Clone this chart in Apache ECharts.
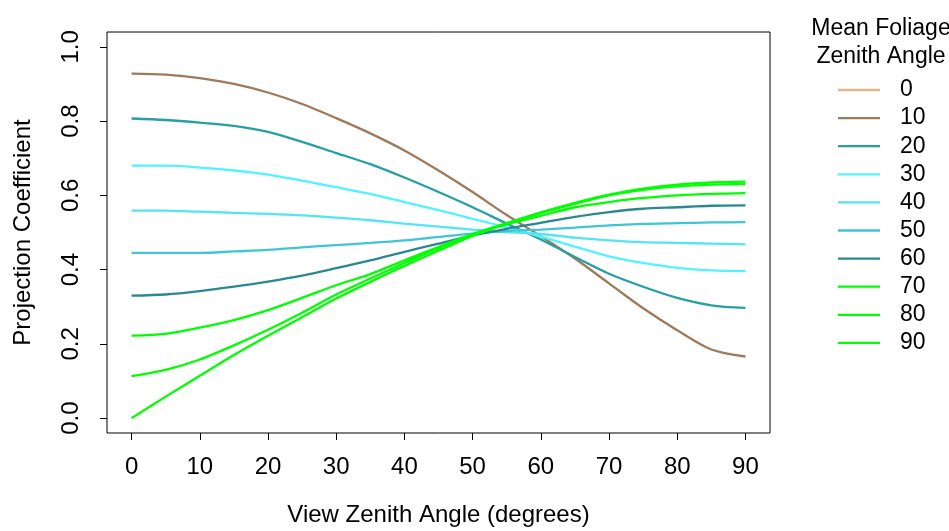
<!DOCTYPE html>
<html>
<head>
<meta charset="utf-8">
<script src="https://cdn.jsdelivr.net/npm/echarts@6/dist/echarts.min.js"></script>
<style>
  html, body { margin: 0; padding: 0; background: #fff; }
  #main { width: 949px; height: 531px; }
</style>
</head>
<body>
<div id="main"></div>
<script>
// view zenith angle (degrees)
var viewAngles = [0, 5, 10, 15, 20, 25, 30, 35, 40, 45, 50, 55, 60, 65, 70, 75, 80, 85, 90];

// projection coefficient per mean foliage zenith angle
var proj0 = [];
var proj10 = [0.928, 0.925, 0.916, 0.900, 0.877, 0.846, 0.808, 0.767, 0.721, 0.667, 0.609, 0.547, 0.490, 0.430, 0.363, 0.296, 0.237, 0.185, 0.166];
var proj20 = [0.807, 0.803, 0.796, 0.787, 0.771, 0.744, 0.714, 0.684, 0.648, 0.609, 0.568, 0.524, 0.481, 0.434, 0.389, 0.354, 0.324, 0.304, 0.297];
var proj30 = [0.680, 0.680, 0.675, 0.667, 0.656, 0.640, 0.622, 0.604, 0.582, 0.560, 0.537, 0.514, 0.489, 0.462, 0.436, 0.418, 0.405, 0.398, 0.396];
var proj40 = [0.559, 0.559, 0.556, 0.553, 0.550, 0.546, 0.540, 0.533, 0.524, 0.516, 0.508, 0.501, 0.496, 0.486, 0.479, 0.474, 0.472, 0.470, 0.468];
var proj50 = [0.445, 0.445, 0.445, 0.449, 0.453, 0.460, 0.466, 0.472, 0.479, 0.488, 0.497, 0.504, 0.508, 0.513, 0.519, 0.523, 0.525, 0.527, 0.528];
var proj60 = [0.330, 0.333, 0.342, 0.354, 0.368, 0.384, 0.404, 0.425, 0.448, 0.470, 0.492, 0.510, 0.526, 0.542, 0.555, 0.564, 0.568, 0.572, 0.573];
var proj70 = [0.222, 0.227, 0.244, 0.264, 0.291, 0.324, 0.358, 0.388, 0.425, 0.461, 0.496, 0.522, 0.545, 0.568, 0.582, 0.593, 0.600, 0.604, 0.606];
var proj80 = [0.113, 0.130, 0.158, 0.196, 0.238, 0.284, 0.333, 0.376, 0.418, 0.458, 0.495, 0.525, 0.552, 0.577, 0.600, 0.615, 0.624, 0.629, 0.631];
var proj90 = [0.000, 0.058, 0.114, 0.170, 0.222, 0.272, 0.322, 0.367, 0.410, 0.451, 0.491, 0.524, 0.554, 0.580, 0.602, 0.618, 0.629, 0.635, 0.637];

var foliageAngles = ['0', '10', '20', '30', '40', '50', '60', '70', '80', '90'];
var projections = [proj0, proj10, proj20, proj30, proj40, proj50, proj60, proj70, proj80, proj90];
var colors = ['#DEB887', '#9E7A5A', '#26A0A4', '#50F4FF', '#54E4F4', '#3EC6D4', '#2A8890', '#00FF00', '#00FF00', '#00FF00'];

var xTicks = [0, 10, 20, 30, 40, 50, 60, 70, 80, 90];
var yTicks = [0, 0.2, 0.4, 0.6, 0.8, 1.0];

var font = '"Liberation Sans", Arial, sans-serif';

var series = foliageAngles.map(function (name, i) {
    return {
        name: name,
        type: 'line',
        data: projections[i].map(function (v, j) { return [viewAngles[j], v]; }),
        symbol: 'none',
        smooth: 0.3,
        lineStyle: { color: colors[i], width: 2.3 },
        itemStyle: { color: colors[i] }
    };
});

var myChart = echarts.init(document.getElementById('main'), null, { renderer: 'canvas' });

var option = {
    backgroundColor: '#fff',
    animation: false,
    textStyle: { fontFamily: font },
    title: {
        text: 'Mean Foliage\nZenith Angle',
        left: 876,
        top: 10,
        textAlign: 'center',
        textStyle: { fontFamily: font, fontSize: 23, fontWeight: 'normal', color: '#000', lineHeight: 28 }
    },
    legend: {
        orient: 'vertical',
        left: 838,
        top: 76,
        icon: 'rect',
        itemWidth: 42,
        itemHeight: 2.3,
        itemGap: 0.1,
        padding: 0,
        data: foliageAngles,
        textStyle: { fontFamily: font, fontSize: 23, color: '#000', lineHeight: 28, padding: [0, 0, 0, 15] }
    },
    grid: {
        left: 107,
        top: 32,
        width: 663,
        height: 401,
        outerBoundsMode: 'none',
        containLabel: false,
        show: true,
        borderColor: '#000',
        borderWidth: 1,
        backgroundColor: 'transparent'
    },
    xAxis: {
        type: 'value',
        min: -3.6,
        max: 93.6,
        name: 'View Zenith Angle (degrees)',
        nameLocation: 'middle',
        nameGap: 70,
        nameTextStyle: { fontFamily: font, fontSize: 24, color: '#000' },
        axisLine: { show: false, onZero: false },
        splitLine: { show: false },
        axisTick: { show: true, inside: false, length: 7, lineStyle: { color: '#000', width: 1 }, customValues: xTicks },
        axisLabel: { fontFamily: font, fontSize: 24, color: '#000', margin: 22, customValues: xTicks }
    },
    yAxis: {
        type: 'value',
        min: -0.04,
        max: 1.04,
        name: 'Projection Coefficient',
        nameLocation: 'middle',
        nameGap: 72,
        nameRotate: 90,
        nameTextStyle: { fontFamily: font, fontSize: 24, color: '#000' },
        axisLine: { show: false, onZero: false },
        splitLine: { show: false },
        axisTick: { show: true, inside: false, length: 7, lineStyle: { color: '#000', width: 1 }, customValues: yTicks },
        axisLabel: {
            fontFamily: font, fontSize: 24, color: '#000', margin: 24, rotate: 90,
            customValues: yTicks,
            formatter: function (v) { return v.toFixed(1); }
        }
    },
    series: series
};

myChart.setOption(option);
</script>
</body>
</html>
